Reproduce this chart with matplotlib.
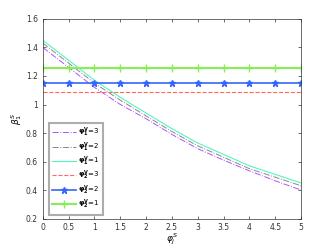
import matplotlib
matplotlib.use("Agg")
import matplotlib.pyplot as plt
import numpy as np

x = [0, 0.5, 1, 1.5, 2, 2.5, 3, 3.5, 4, 4.5, 5]
phi1_v1 = [1.45, 1.31, 1.17, 1.05, 0.94, 0.83, 0.73, 0.65, 0.57, 0.51, 0.45]
phi1_v2 = [1.43, 1.29, 1.15, 1.03, 0.92, 0.81, 0.71, 0.63, 0.55, 0.49, 0.43]
phi1_v3 = [1.40, 1.26, 1.12, 1.00, 0.90, 0.79, 0.69, 0.61, 0.535, 0.465, 0.40]
phi2_v3 = [1.085] * len(x)
phi2_v2 = [1.152] * len(x)
phi2_v1 = [1.255] * len(x)

plt.rcParams['font.family'] = ['DejaVu Sans']
fig = plt.figure(figsize=(3.32, 2.49), dpi=100)
ax = fig.add_axes([0.129, 0.122, 0.778, 0.802])

xs = np.linspace(0, 5, 101)
ax.plot(xs, np.interp(xs, x, phi1_v3), color='#aa55ff', ls='-.', lw=0.7, label=r'$\mathbf{\varphi_1^V}$=3')
ax.plot(xs, np.interp(xs, x, phi1_v2), color='#888888', ls='-.', lw=0.7, label=r'$\mathbf{\varphi_1^V}$=2')
ax.plot(xs, np.interp(xs, x, phi1_v1), color='#55f5c0', ls='-', lw=0.8, label=r'$\mathbf{\varphi_1^V}$=1')
ax.plot(x, phi2_v3, color='#ff6666', ls='--', lw=0.8, label=r'$\mathbf{\varphi_2^V}$=3')
ax.plot(x, phi2_v2, color='#3366ff', ls='-', lw=1.2, marker='*', ms=5, label=r'$\mathbf{\varphi_2^V}$=2')
ax.plot(x, phi2_v1, color='#88ee55', ls='-', lw=1.5, marker='+', ms=6, label=r'$\mathbf{\varphi_2^V}$=1')

ax.set_xlim(0, 5)
ax.set_ylim(0.2, 1.6)
ax.set_xticks(x)
ax.set_xticklabels(['0', '0.5', '1', '1.5', '2', '2.5', '3', '3.5', '4', '4.5', '5'])
ax.set_yticks([0.2, 0.4, 0.6, 0.8, 1.0, 1.2, 1.4, 1.6])
ax.set_yticklabels(['0.2', '0.4', '0.6', '0.8', '1', '1.2', '1.4', '1.6'])
ax.tick_params(direction='in', labelsize=5.5, top=True, right=True, length=2, width=0.5, colors='#333333')
for s in ax.spines.values():
    s.set_linewidth(0.5)
    s.set_color('#333333')
ax.set_xlabel(r'$\varphi_j^S$', fontsize=6.5, labelpad=-0.5)
ax.set_ylabel(r'$\beta_1^S$', fontsize=6.5, labelpad=1)

leg = ax.legend(loc='lower left', bbox_to_anchor=(0.015, 0.01), fontsize=5, frameon=True,
                fancybox=False, edgecolor='#999999', handlelength=3.4, borderpad=0.5,
                labelspacing=0.15, handletextpad=0.3, borderaxespad=0.3)
leg.get_frame().set_linewidth(1.5)

fig.savefig('out.png', dpi=100)
